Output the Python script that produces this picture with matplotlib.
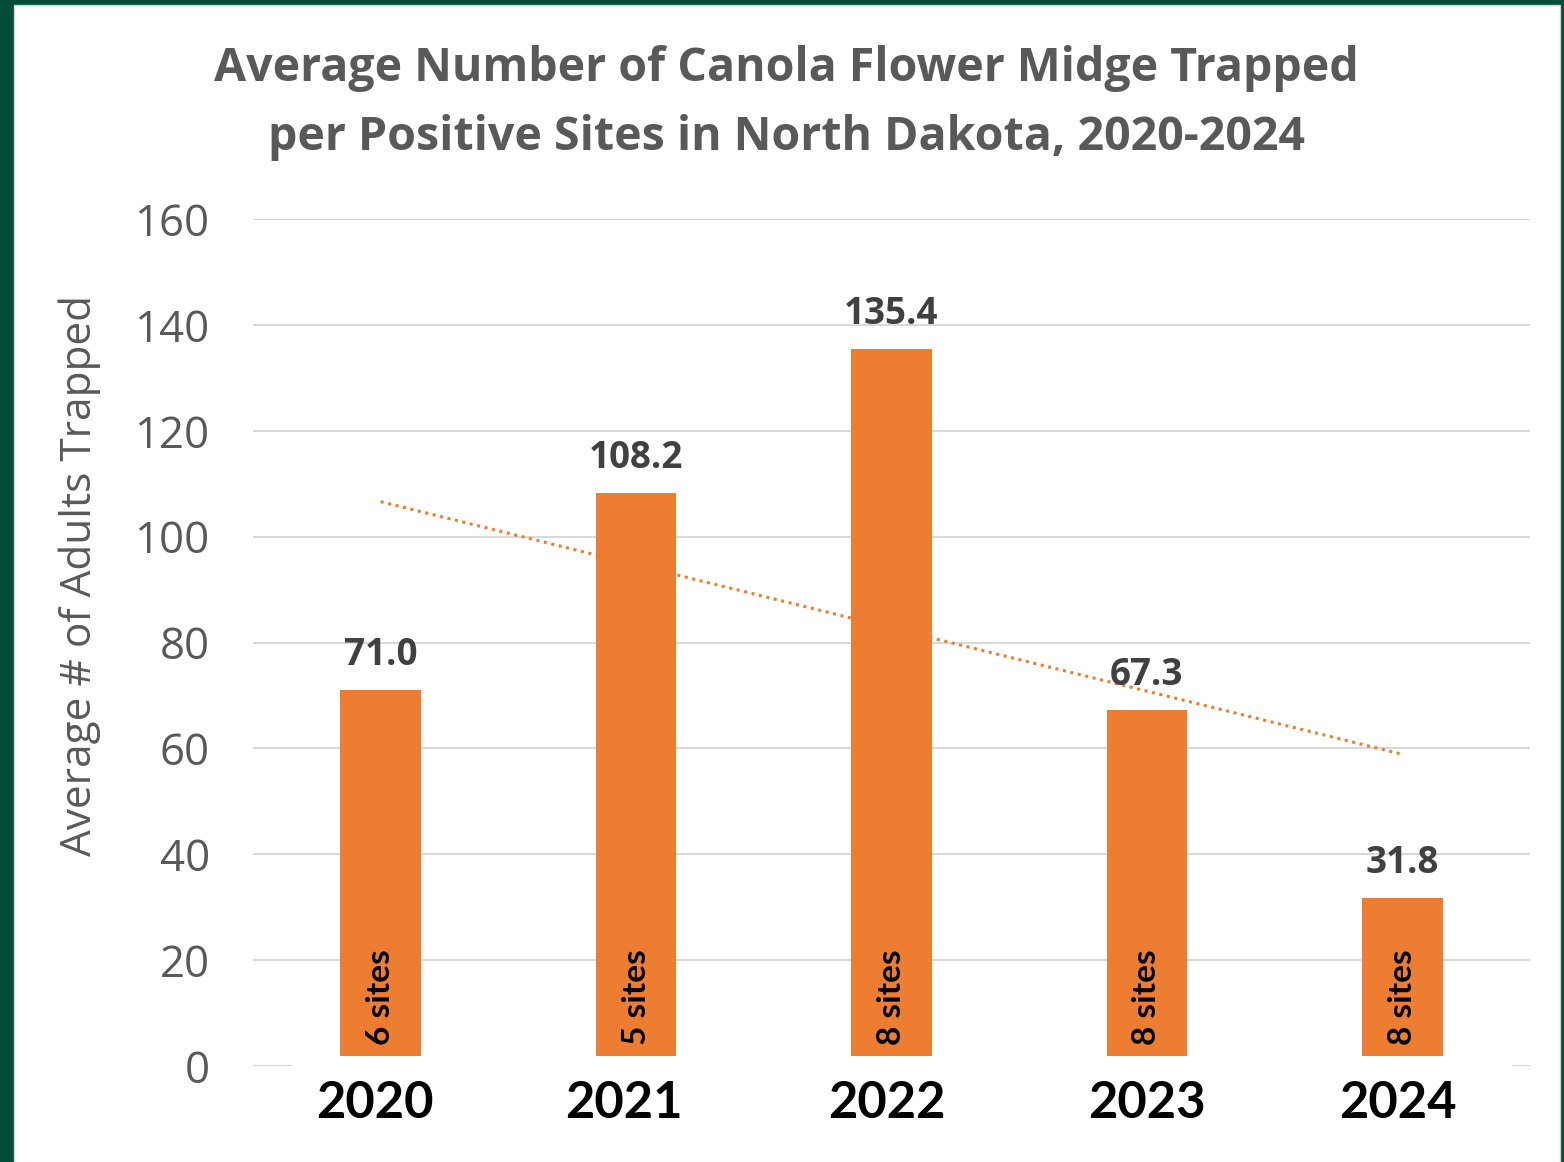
import matplotlib
matplotlib.use("Agg")
import matplotlib.pyplot as plt
from matplotlib.patches import Rectangle
from matplotlib.transforms import blended_transform_factory
import numpy as np

years = ["2020", "2021", "2022", "2023", "2024"]
averages = [71.0, 108.2, 135.4, 67.3, 31.8]
site_labels = ["6 sites", "5 sites", "8 sites", "8 sites", "8 sites"]
y_ticks = [0, 20, 40, 60, 80, 100, 120, 140, 160]

W, H = 1564, 1162
fig = plt.figure(figsize=(W / 100, H / 100), dpi=100)
fig.patch.set_facecolor("#024D38")
fig.add_artist(Rectangle((14 / W, 0), (1560 - 14) / W, 1 - 5 / H,
                         transform=fig.transFigure, facecolor="white",
                         edgecolor="#D0D0D0", linewidth=1, zorder=-1))

ax = fig.add_axes([253 / W, 1 - 1066 / H, (1530 - 253) / W, (1066 - 219) / H])
ax.set_facecolor("none")
x = np.arange(len(years))
ax.bar(x, averages, width=0.315, color="#ED7D31", zorder=2)

coef = np.polyfit(x, averages, 1)
ax.plot(x, np.polyval(coef, x), linestyle=(0, (1, 1.5)), color="#ED7D31",
        linewidth=2.2, zorder=3)

ax.set_xlim(-0.5, len(years) - 0.5)
ax.set_ylim(0, 160)
ax.set_yticks(y_ticks)
ax.set_yticklabels([str(t) for t in y_ticks], fontsize=31.5, color="#595959",
                   family="Open Sans")
ax.tick_params(axis="y", length=0, pad=31)
ax.set_xticks([])
ax.yaxis.grid(True, color="#D9D9D9", linewidth=1.5)
ax.set_axisbelow(True)
for s in ax.spines.values():
    s.set_visible(False)

for xi, v in zip(x, averages):
    ax.annotate(f"{v:.1f}", (xi, v), xytext=(0, 18), textcoords="offset points",
                ha="center", va="baseline", fontsize=26.5, fontweight="bold",
                color="#404040", family="Open Sans", zorder=5)

for xi, lab in zip(x, site_labels):
    ax.annotate(lab, (xi, 0), xytext=(0, 15), textcoords="offset points",
                ha="center", va="bottom", rotation=90, fontsize=24,
                fontweight="bold", color="black", family="Lato", zorder=5)

# white label band over the axis line
fig.add_artist(Rectangle((292 / W, 1 - 1140 / H), (1512 - 292) / W, (1140 - 1056) / H,
                         transform=fig.transFigure, facecolor="white",
                         edgecolor="none", zorder=2))
year_offsets = [-6, -12, -5, 0, -4]
for xi, yr, dx in zip(x, years, year_offsets):
    t = fig.text(0, 1 - 1103 / H, yr, ha="center", va="center",
                 fontsize=36.5, fontweight="bold", color="black", family="Lato",
                 zorder=3)
    t.set_transform(blended_transform_factory(ax.transData, fig.transFigure))
    t.set_position((xi + dx / 255.4, 1 - 1103 / H))

fig.text(0.5026, 1 - 103 / H,
         "Average Number of Canola Flower Midge Trapped\nper Positive Sites in North Dakota, 2020-2024",
         ha="center", va="center", fontsize=33.5, fontweight="bold",
         color="#595959", family="Open Sans", linespacing=1.6)

fig.text(80 / W, 1 - 576 / H, "Average # of Adults Trapped", rotation=90,
         ha="center", va="center", fontsize=30.5, color="#595959",
         family="Open Sans")

fig.savefig("out.png", dpi=100, facecolor=fig.get_facecolor())
